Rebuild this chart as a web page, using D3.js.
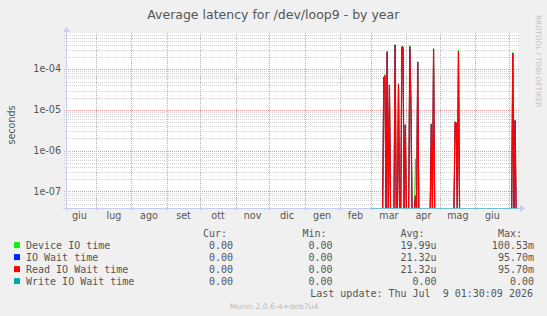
<!DOCTYPE html>
<html>
<head>
<meta charset="utf-8">
<script src="https://cdn.jsdelivr.net/npm/d3@7"></script>
<style>
body { margin: 0; background: #f0f0f0; }
svg { display: block; }
text { font-family: "DejaVu Sans", sans-serif; fill: #555; }
.mono { font-family: "DejaVu Sans Mono", monospace; font-size: 10px; white-space: pre; }
</style>
</head>
<body>
<div id="chart"></div>
<script>
// month labels, year axis (Italian locale, as in the munin page)
var monthLabels = ["giu", "lug", "ago", "set", "ott", "nov", "dic", "gen", "feb", "mar", "apr", "mag", "giu"];
var yTickValues = [1e-4, 1e-5, 1e-6, 1e-7];
var yTickLabels = ["1e-04", "1e-05", "1e-06", "1e-07"];

// days with latency (everything else in the data range is 0)
var spikeDays = ["2026-03-12", "2026-03-13", "2026-03-15", "2026-03-17", "2026-03-22", "2026-03-25",
    "2026-03-28", "2026-03-29", "2026-03-31", "2026-04-04", "2026-04-05", "2026-04-09", "2026-04-11",
    "2026-04-23", "2026-04-25", "2026-05-14", "2026-05-15", "2026-05-17", "2026-07-04", "2026-07-06"];
var deviceTime = [6.2e-5, 7.4e-5, 2.8e-4, 4.2e-5, 4.1e-4, 4.4e-5, 3.6e-4, 3.6e-4, 4.4e-6, 3.8e-4, 1.0e-5,
    6.3e-7, 1.56e-4, 4.6e-6, 3.3e-4, 4.0e-6, 4.8e-6, 2.95e-4, 2.6e-4, 5.6e-6];
var ioWait = [6.2e-5, 6.8e-5, 2.7e-4, 4.1e-5, 3.96e-4, 4.3e-5, 3.5e-4, 3.5e-4, 4.3e-6, 3.6e-4, 1.4e-5,
    7.8e-8, 1.49e-4, 4.5e-6, 3.1e-4, 5.0e-6, 4.8e-6, 2.8e-4, 2.5e-4, 5.5e-6];
var readWait = [6.2e-5, 6.8e-5, 2.7e-4, 4.1e-5, 3.96e-4, 4.3e-5, 3.5e-4, 3.5e-4, 4.3e-6, 3.6e-4, 1.4e-5,
    7.8e-8, 1.49e-4, 4.5e-6, 3.1e-4, 5.0e-6, 4.8e-6, 2.8e-4, 2.5e-4, 5.5e-6];
var writeWait = [0, 0, 0, 0, 0, 0, 0, 0, 0, 0, 0, 0, 0, 0, 0, 0, 0, 0, 0, 0];

var legendNames = ["Device IO time", "IO Wait time", "Read IO Wait time", "Write IO Wait time"];
var curVals = ["0.00", "0.00", "0.00", "0.00"];
var minVals = ["0.00", "0.00", "0.00", "0.00"];
var avgVals = ["19.99u", "21.32u", "21.32u", "0.00"];
var maxVals = ["100.53m", "95.70m", "95.70m", "0.00"];
var colors = ["#11ee11", "#0022ff", "#ff0000", "#00aaaa"];

var width = 547, height = 316;
var plot = { left: 66, right: 518, top: 33, bottom: 208 };

var x = d3.scaleTime()
    .domain([new Date(2025, 5, 4, 1, 30), new Date(2026, 6, 9, 1, 30)])
    .range([65.9, 518.5]);
var y = d3.scaleLog()
    .domain([3.9e-8, 7.8e-4])
    .range([plot.bottom, plot.top])
    .clamp(true);

var svg = d3.select("#chart").append("svg")
    .attr("width", width)
    .attr("height", height);

svg.append("rect").attr("width", width).attr("height", height).attr("fill", "#f0f0f0");
svg.append("rect")
    .attr("x", plot.left).attr("y", plot.top)
    .attr("width", plot.right - plot.left).attr("height", plot.bottom - plot.top)
    .attr("fill", "#fff");

// horizontal grid: minor grey, decades red
var yt = y.ticks();
svg.selectAll(".hgrid")
    .data(yt)
    .enter().append("line")
    .attr("x1", plot.left - 2).attr("x2", plot.right + 1)
    .attr("y1", d => Math.round(y(d)) + 0.5)
    .attr("y2", d => Math.round(y(d)) + 0.5)
    .attr("stroke", d => Math.abs(Math.log10(d) - Math.round(Math.log10(d))) < 1e-6 ? "#ee9a9a" : "#d2d2d2")
    .attr("stroke-dasharray", "1,1");

// vertical month lines
var monthStarts = d3.timeMonth.range(new Date(2025, 6, 1), new Date(2026, 6, 2));
svg.selectAll(".vgrid")
    .data(monthStarts)
    .enter().append("line")
    .attr("x1", d => Math.round(x(d)) + 0.5)
    .attr("x2", d => Math.round(x(d)) + 0.5)
    .attr("y1", plot.top).attr("y2", plot.bottom + 3)
    .attr("stroke", "#ee9a9a")
    .attr("stroke-dasharray", "1,1");

// axes with arrows
var axisColor = "#c6ccf4";
svg.append("line")
    .attr("x1", plot.left - 3).attr("x2", plot.right + 3)
    .attr("y1", plot.bottom + 0.5).attr("y2", plot.bottom + 0.5)
    .attr("stroke", axisColor);
svg.append("line")
    .attr("x1", plot.left + 0.5).attr("x2", plot.left + 0.5)
    .attr("y1", plot.bottom + 3).attr("y2", plot.top - 2)
    .attr("stroke", axisColor);
svg.append("path")
    .attr("d", `M${plot.right + 2},${plot.bottom - 3} L${plot.right + 7},${plot.bottom + 0.5} L${plot.right + 2},${plot.bottom + 4} Z`)
    .attr("fill", axisColor);
svg.append("path")
    .attr("d", `M${plot.left - 3},${plot.top - 1} L${plot.left + 0.5},${plot.top - 6} L${plot.left + 4},${plot.top - 1} Z`)
    .attr("fill", axisColor);

// series: one value per day, zero days fall off the bottom of the log scale
var days = d3.timeDay.range(new Date(2026, 2, 1), new Date(2026, 6, 10));
var fmt = d3.timeFormat("%Y-%m-%d");
function series(vals) {
    return days.map(d => {
        var i = spikeDays.indexOf(fmt(d));
        return { date: d, v: i < 0 ? 0 : vals[i] };
    });
}
svg.append("clipPath").attr("id", "clip")
    .append("rect")
    .attr("x", plot.left).attr("y", plot.top)
    .attr("width", plot.right - plot.left).attr("height", plot.bottom - plot.top);

var line = d3.line()
    .x(d => x(d.date))
    .y(d => d.v > 0 ? y(d.v) : plot.bottom + 4);

var gData = svg.append("g").attr("clip-path", "url(#clip)");
[deviceTime, ioWait, readWait].forEach((vals, i) => {
    gData.append("path")
        .datum(series(vals))
        .attr("d", line)
        .attr("fill", "none")
        .attr("stroke", colors[i])
        .attr("stroke-width", i == 2 ? 1.25 : 1);
});

// write wait is 0 all along: rrdtool leaves it on the bottom edge
svg.append("path")
    .datum(series(writeWait))
    .attr("d", d3.line().x(d => x(d.date)).y(d => y(Math.max(d.v, 1e-12)) + 0.5))
    .attr("fill", "none")
    .attr("stroke", colors[3])
    .attr("stroke-opacity", 0.45)
    .attr("stroke-width", 1);

// month labels centred on each month
var labelMonths = d3.timeMonth.range(new Date(2025, 5, 1), new Date(2026, 6, 1));
svg.selectAll(".month")
    .data(labelMonths)
    .enter().append("text")
    .attr("x", d => (x(d) + x(d3.timeMonth.offset(d, 1))) / 2)
    .attr("y", 219)
    .attr("text-anchor", "middle")
    .style("font-size", "9.6px")
    .text((d, i) => monthLabels[i]);

svg.selectAll(".ytick")
    .data(yTickValues)
    .enter().append("text")
    .attr("x", 61)
    .attr("y", d => y(d) + 3.2)
    .attr("text-anchor", "end")
    .style("font-size", "9.6px")
    .text((d, i) => yTickLabels[i]);

svg.append("text")
    .attr("transform", "translate(14.5,125) rotate(-90)")
    .attr("text-anchor", "middle")
    .style("font-size", "9.6px")
    .text("seconds");

svg.append("text")
    .attr("x", 273.3).attr("y", 18.8)
    .attr("text-anchor", "middle")
    .style("font-size", "12.5px")
    .text("Average latency for /dev/loop9 - by year");

svg.append("text")
    .attr("transform", "translate(536,15) rotate(90)")
    .style("font-size", "7.2px")
    .style("fill", "#c4c4c4")
    .text("RRDTOOL / TOBI OETIKER");

// legend
var header = [["Cur:", 227], ["Min:", 326.5], ["Avg:", 424.5], ["Max:", 522]];
svg.selectAll(".hdr")
    .data(header)
    .enter().append("text")
    .classed("mono", true)
    .attr("x", d => d[1]).attr("y", 236.7)
    .attr("text-anchor", "end")
    .text(d => d[0]);

var rows = svg.selectAll(".row")
    .data(legendNames)
    .enter().append("g")
    .attr("transform", (d, i) => `translate(0,${248.6 + i * 12})`);
rows.append("rect")
    .attr("x", 14).attr("y", -6.5)
    .attr("width", 6).attr("height", 6)
    .attr("fill", (d, i) => colors[i]);
rows.append("text").classed("mono", true).attr("x", 26).text(d => d);
rows.append("text").classed("mono", true).attr("x", 233).attr("text-anchor", "end").text((d, i) => curVals[i]);
rows.append("text").classed("mono", true).attr("x", 332.5).attr("text-anchor", "end").text((d, i) => minVals[i]);
rows.append("text").classed("mono", true).attr("x", 436.5).attr("text-anchor", "end").text((d, i) => avgVals[i]);
rows.append("text").classed("mono", true).attr("x", 534).attr("text-anchor", "end").text((d, i) => maxVals[i]);

svg.append("text")
    .classed("mono", true)
    .attr("x", 533).attr("y", 296.6)
    .attr("text-anchor", "end")
    .text("Last update: Thu Jul  9 01:30:09 2026");

svg.append("text")
    .attr("x", 274).attr("y", 309)
    .attr("text-anchor", "middle")
    .style("font-size", "7.7px")
    .style("fill", "#bbbbbb")
    .text("Munin 2.0.6-4+deb7u4");
</script>
</body>
</html>
